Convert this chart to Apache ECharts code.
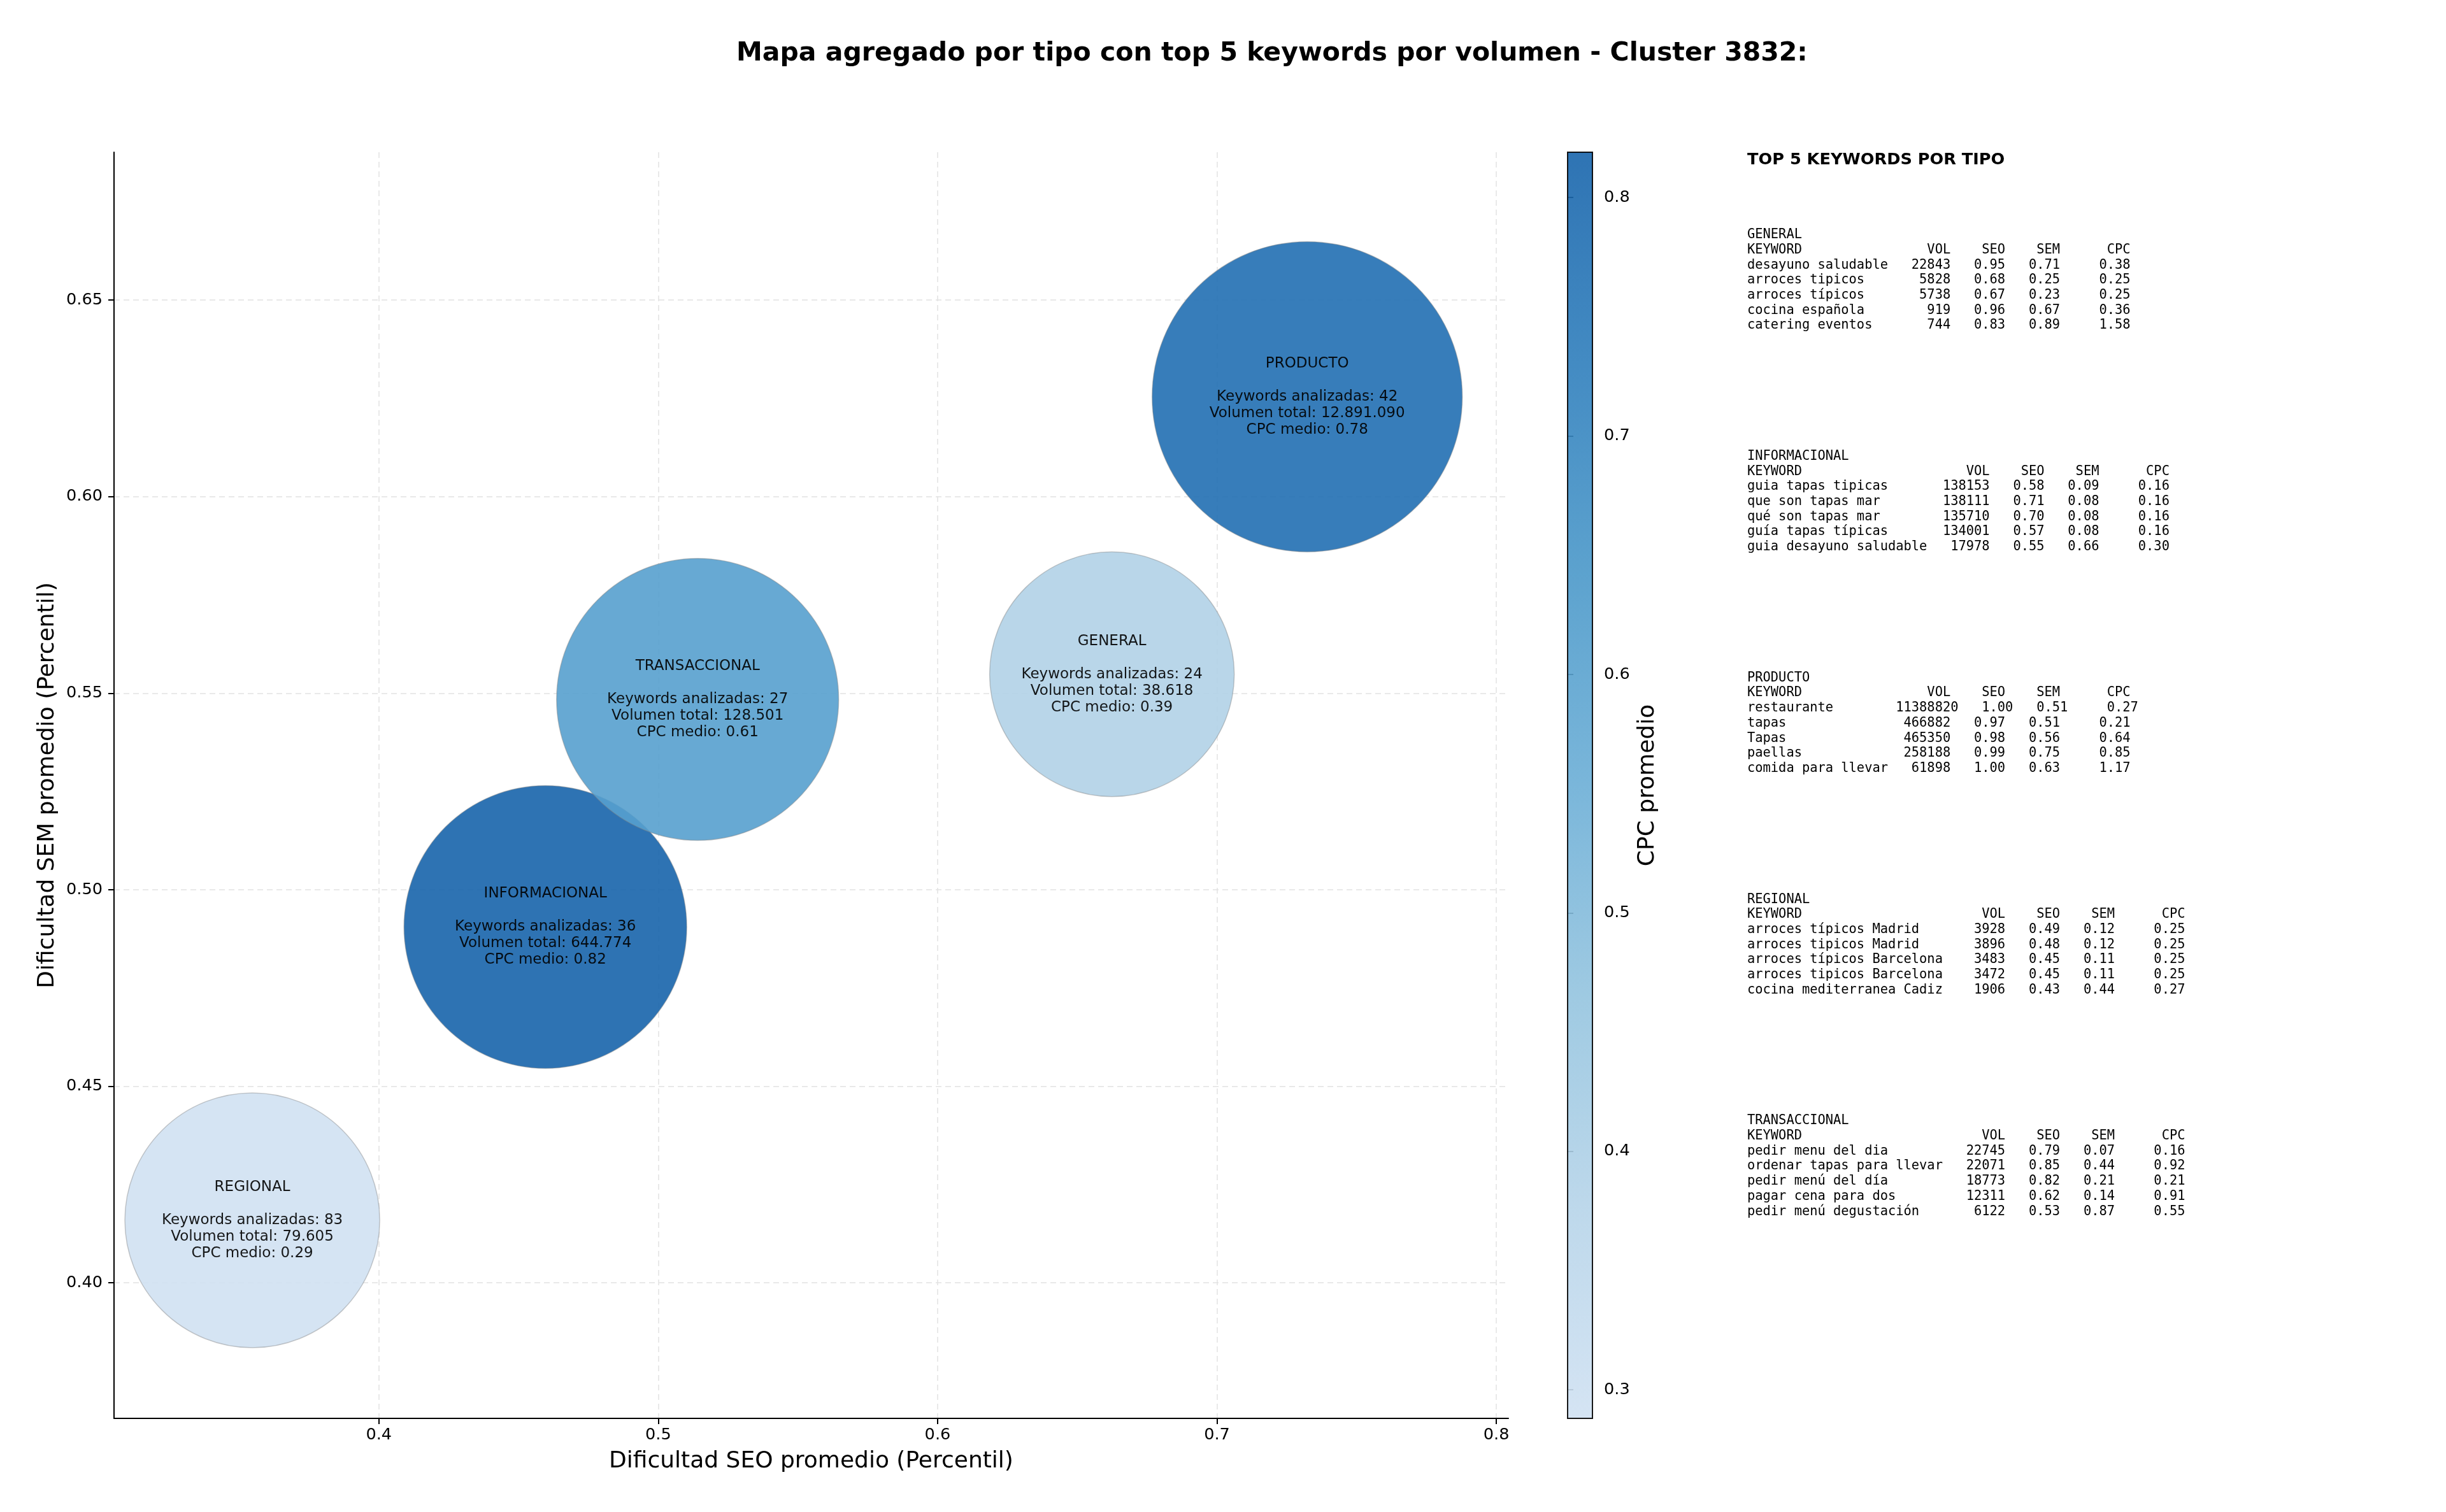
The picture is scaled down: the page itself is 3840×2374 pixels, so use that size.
<!DOCTYPE html>
<html>
<head>
<meta charset="utf-8">
<title>Mapa agregado por tipo - Cluster 3832</title>
<script src="https://cdn.jsdelivr.net/npm/echarts@6/dist/echarts.min.js"></script>
<style>
  html, body { margin: 0; padding: 0; background: #fff; }
  #chart { width: 3840px; height: 2374px; }
</style>
</head>
<body>
<div id="chart"></div>
<script>
// datos agregados por tipo
const tipos = ['GENERAL', 'INFORMACIONAL', 'PRODUCTO', 'REGIONAL', 'TRANSACCIONAL']
const seoMedio = [0.6624, 0.4596, 0.7323, 0.3547, 0.5141]
const semMedio = [0.5548, 0.4905, 0.6254, 0.4159, 0.5484]
const cpcMedio = [0.39, 0.819, 0.78, 0.288, 0.61]
const volumenTotal = [38618, 644774, 12891090, 79605, 128501]
const keywordsAnalizadas = [24, 36, 42, 83, 27]
// peso relativo de cada burbuja (área, PRODUCTO = 100)
const pesoBurbuja = [62.2, 83.1, 100, 67.5, 82.7]

// top 5 keywords por tipo: [keyword, vol, seo, sem, cpc]
const topGeneral = [
  ['desayuno saludable', 22843, 0.95, 0.71, 0.38],
  ['arroces tipicos', 5828, 0.68, 0.25, 0.25],
  ['arroces típicos', 5738, 0.67, 0.23, 0.25],
  ['cocina española', 919, 0.96, 0.67, 0.36],
  ['catering eventos', 744, 0.83, 0.89, 1.58]
]
const topInformacional = [
  ['guia tapas tipicas', 138153, 0.58, 0.09, 0.16],
  ['que son tapas mar', 138111, 0.71, 0.08, 0.16],
  ['qué son tapas mar', 135710, 0.70, 0.08, 0.16],
  ['guía tapas típicas', 134001, 0.57, 0.08, 0.16],
  ['guia desayuno saludable', 17978, 0.55, 0.66, 0.30]
]
const topProducto = [
  ['restaurante', 11388820, 1.00, 0.51, 0.27],
  ['tapas', 466882, 0.97, 0.51, 0.21],
  ['Tapas', 465350, 0.98, 0.56, 0.64],
  ['paellas', 258188, 0.99, 0.75, 0.85],
  ['comida para llevar', 61898, 1.00, 0.63, 1.17]
]
const topRegional = [
  ['arroces típicos Madrid', 3928, 0.49, 0.12, 0.25],
  ['arroces tipicos Madrid', 3896, 0.48, 0.12, 0.25],
  ['arroces típicos Barcelona', 3483, 0.45, 0.11, 0.25],
  ['arroces tipicos Barcelona', 3472, 0.45, 0.11, 0.25],
  ['cocina mediterranea Cadiz', 1906, 0.43, 0.44, 0.27]
]
const topTransaccional = [
  ['pedir menu del dia', 22745, 0.79, 0.07, 0.16],
  ['ordenar tapas para llevar', 22071, 0.85, 0.44, 0.92],
  ['pedir menú del día', 18773, 0.82, 0.21, 0.21],
  ['pagar cena para dos', 12311, 0.62, 0.14, 0.91],
  ['pedir menú degustación', 6122, 0.53, 0.87, 0.55]
]

// ejes
const xTicks = [0.4, 0.5, 0.6, 0.7, 0.8]
const yTicks = [0.40, 0.45, 0.50, 0.55, 0.60, 0.65]
const cbTicks = [0.3, 0.4, 0.5, 0.6, 0.7, 0.8]
const xLim = [0.3052, 0.8043]
const yLim = [0.3655, 0.6876]

// escala Blues (tramo 0.2 - 0.8)
const blues = ['#d0e1f2', '#b6d4e9', '#94c4df', '#6baed6', '#4a98c9', '#2e7ebc', '#1764ab']

const cpcMin = Math.min(...cpcMedio)
const cpcMax = Math.max(...cpcMedio)

const fmtMiles = (v) => String(v).replace(/\B(?=(\d{3})+(?!\d))/g, '.')

// tabla de texto monoespaciada
const tablaTexto = (nombre, filas) => {
  const w = Math.max(...filas.map(f => f[0].length))
  const lineas = [nombre,
    'KEYWORD'.padEnd(w) + ' ' + 'VOL'.padStart(7) + 'SEO'.padStart(7) + 'SEM'.padStart(7) + 'CPC'.padStart(9)]
  filas.forEach(f => {
    lineas.push(f[0].padEnd(w) + ' ' + String(f[1]).padStart(7) + f[2].toFixed(2).padStart(7) +
      f[3].toFixed(2).padStart(7) + f[4].toFixed(2).padStart(9))
  })
  return lineas.join('\n')
}

const bloques = [
  ['GENERAL', topGeneral],
  ['INFORMACIONAL', topInformacional],
  ['PRODUCTO', topProducto],
  ['REGIONAL', topRegional],
  ['TRANSACCIONAL', topTransaccional]
]

const puntos = tipos.map((t, i) => [seoMedio[i], semMedio[i], cpcMedio[i], volumenTotal[i], keywordsAnalizadas[i], t, pesoBurbuja[i]])

const graphics = [{
  type: 'text',
  left: 2743,
  top: 238,
  style: { text: 'TOP 5 KEYWORDS POR TIPO', fontFamily: 'DejaVu Sans', fontWeight: 'bold', fontSize: 25.6, fill: '#000' }
}]
bloques.forEach((b, i) => {
  graphics.push({
    type: 'text',
    left: 2743,
    top: 357 + i * 347.8,
    style: {
      text: tablaTexto(b[0], b[1]),
      fontFamily: 'DejaVu Sans Mono',
      fontSize: 20.4,
      lineHeight: 23.7,
      fill: '#000'
    }
  })
})

const chart = echarts.init(document.getElementById('chart'))

const axisCommon = {
  axisLine: { show: true, lineStyle: { color: '#000', width: 2 } },
  axisTick: { show: true, length: 9, lineStyle: { color: '#000', width: 2 } },
  splitLine: { show: true, lineStyle: { color: '#e2e2e2', width: 1.5, type: [9, 6] } },
  nameTextStyle: { fontSize: 36, color: '#000' }
}

const option = {
  backgroundColor: '#fff',
  textStyle: { fontFamily: 'DejaVu Sans' },
  animation: false,
  title: {
    text: 'Mapa agregado por tipo con top 5 keywords por volumen - Cluster 3832:',
    left: 1156,
    top: 60,
    padding: 0,
    textStyle: { fontSize: 41, fontWeight: 'bold', color: '#000', lineHeight: 48 }
  },
  grid: [
    { left: 179, top: 239, width: 2189, height: 1988 },
    { left: 2461, top: 239, width: 39, height: 1988 }
  ],
  xAxis: [
    {
      ...axisCommon,
      type: 'value',
      gridIndex: 0,
      min: xLim[0],
      max: xLim[1],
      axisTick: { ...axisCommon.axisTick, customValues: xTicks },
      axisLabel: { customValues: xTicks, fontSize: 25.6, color: '#000', margin: 13, formatter: v => v.toFixed(1) },
      name: 'Dificultad SEO promedio (Percentil)',
      nameLocation: 'middle',
      nameGap: 50
    },
    { type: 'value', gridIndex: 1, min: 0, max: 1, show: false }
  ],
  yAxis: [
    {
      ...axisCommon,
      type: 'value',
      gridIndex: 0,
      min: yLim[0],
      max: yLim[1],
      axisTick: { ...axisCommon.axisTick, customValues: yTicks },
      axisLabel: { customValues: yTicks, fontSize: 25.6, color: '#000', margin: 18, formatter: v => v.toFixed(2) },
      name: 'Dificultad SEM promedio (Percentil)',
      nameLocation: 'middle',
      nameRotate: 90,
      nameGap: 83
    },
    {
      type: 'value',
      gridIndex: 1,
      position: 'right',
      min: cpcMin,
      max: cpcMax,
      axisLine: { show: false },
      splitLine: { show: false },
      axisTick: { show: true, length: 9, lineStyle: { color: '#000', width: 2 }, customValues: cbTicks },
      axisLabel: { customValues: cbTicks, fontSize: 25.6, color: '#000', margin: 18, formatter: v => v.toFixed(1) },
      name: 'CPC promedio',
      nameLocation: 'middle',
      nameRotate: 90,
      nameGap: 69,
      nameTextStyle: { fontSize: 36, color: '#000' }
    }
  ],
  visualMap: {
    show: false,
    type: 'continuous',
    seriesIndex: 0,
    dimension: 2,
    min: cpcMin,
    max: cpcMax,
    inRange: { color: blues }
  },
  series: [
    {
      type: 'scatter',
      xAxisIndex: 0,
      yAxisIndex: 0,
      data: puntos,
      // área proporcional al peso de la burbuja
      symbolSize: (val) => 487 * Math.sqrt(val[6] / 100),
      itemStyle: { opacity: 0.9, borderColor: 'rgba(128,128,128,0.45)', borderWidth: 1.5 },
      label: {
        show: true,
        position: 'inside',
        fontSize: 23,
        lineHeight: 26,
        color: '#000',
        align: 'center',
        formatter: (p) => {
          const d = p.data
          return d[5] + '\n\nKeywords analizadas: ' + d[4] + '\nVolumen total: ' + fmtMiles(d[3]) +
            '\nCPC medio: ' + d[2].toFixed(2)
        }
      },
      emphasis: { disabled: true }
    },
    {
      // barra de color
      type: 'custom',
      xAxisIndex: 1,
      yAxisIndex: 1,
      silent: true,
      data: [[0, cpcMin, 1, cpcMax]],
      renderItem: (params, api) => {
        const tl = api.coord([api.value(0), api.value(3)])
        const br = api.coord([api.value(2), api.value(1)])
        const stops = blues.map((c, i) => ({ offset: i / (blues.length - 1), color: c }))
        return {
          type: 'rect',
          shape: { x: tl[0], y: tl[1], width: br[0] - tl[0], height: br[1] - tl[1] },
          style: {
            fill: new echarts.graphic.LinearGradient(0, 1, 0, 0, stops),
            opacity: 0.9,
            stroke: '#000',
            lineWidth: 2
          }
        }
      }
    }
  ],
  graphic: graphics
}

chart.setOption(option)
</script>
</body>
</html>
